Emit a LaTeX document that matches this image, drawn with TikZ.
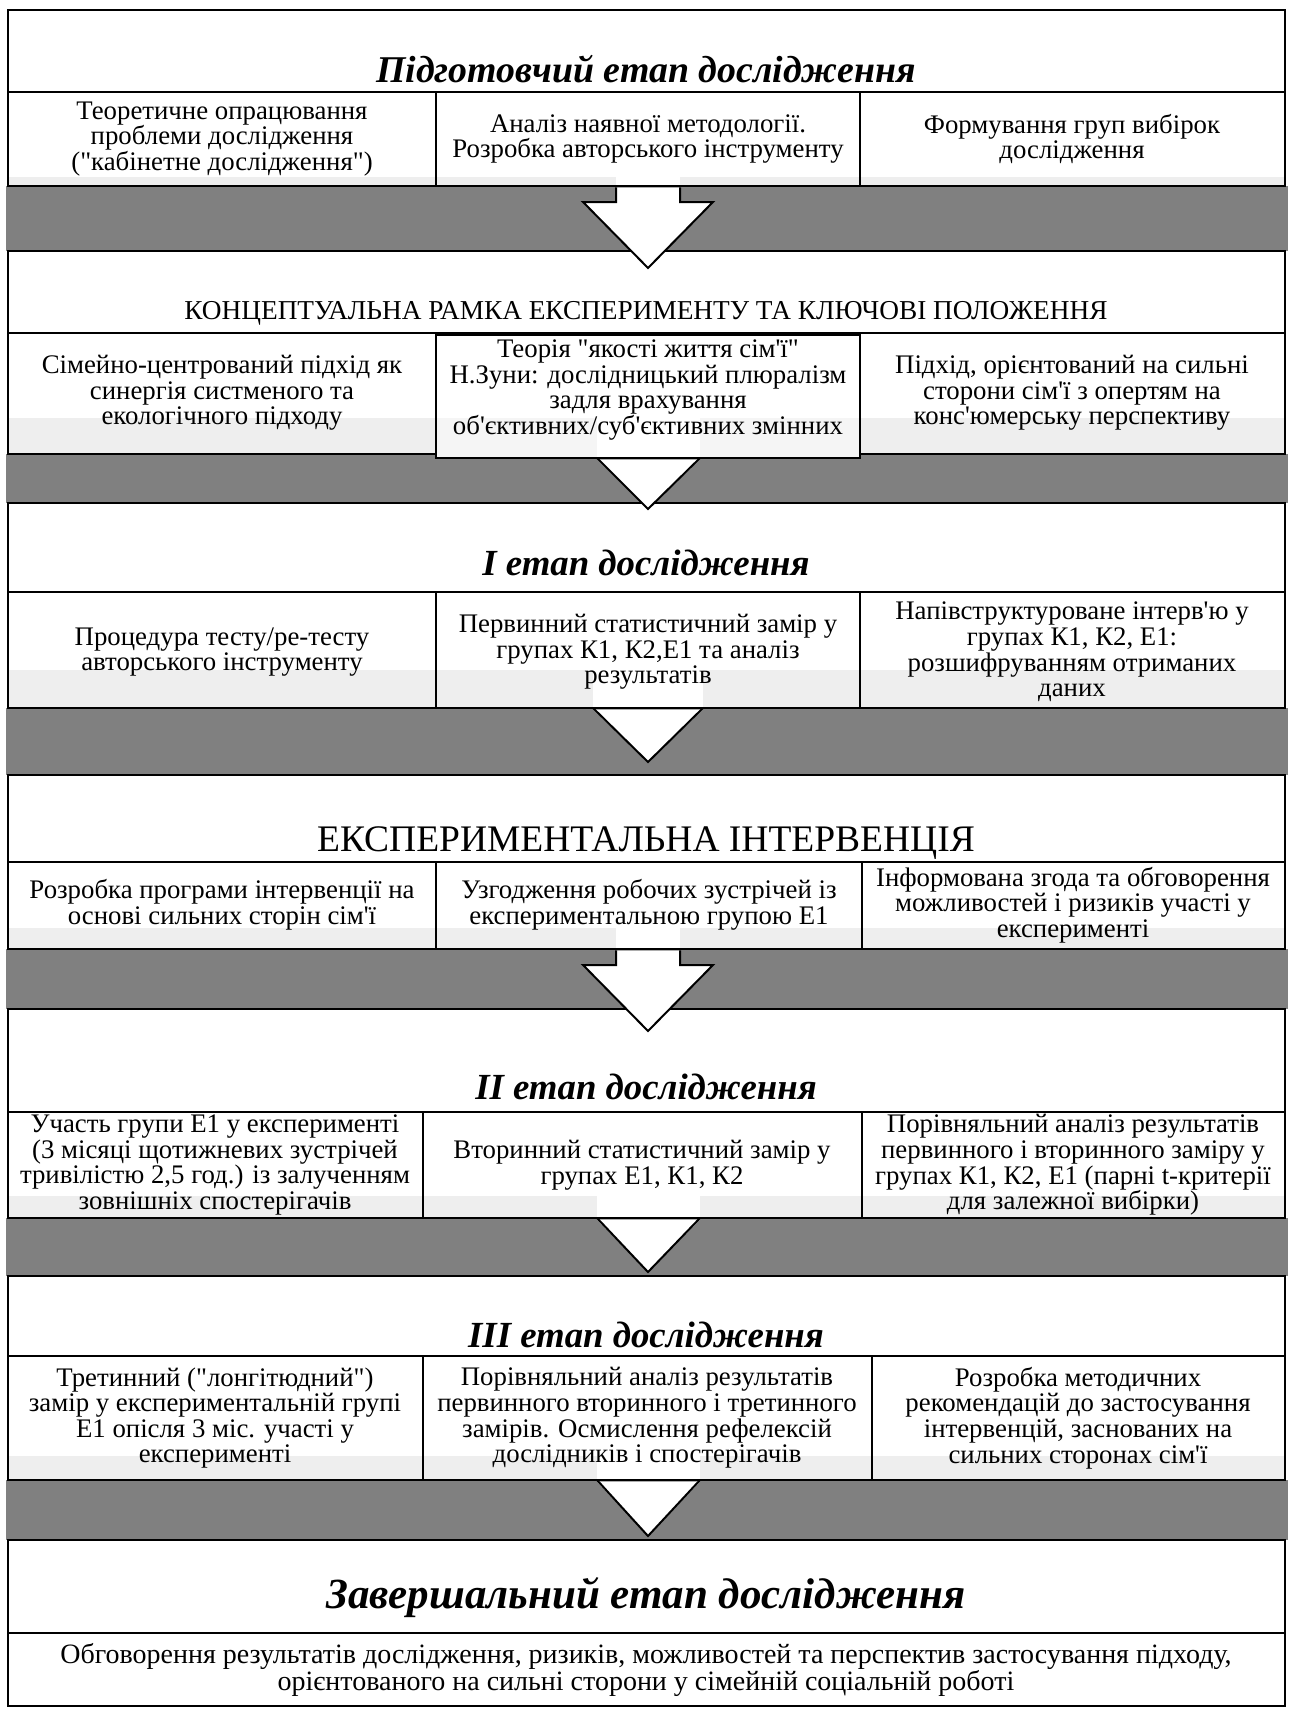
\documentclass[tikz,border=0pt]{standalone}
\usepackage{fontspec}
\setmainfont{Liberation Serif}[Ligatures=TeXOff]
\definecolor{bandgray}{RGB}{128,128,128}
\definecolor{stripgray}{RGB}{238,238,238}
\begin{document}
\begin{tikzpicture}[x=1pt,y=-1pt,line join=miter,
  frame/.style={draw=black,line width=2.6pt},
  divline/.style={draw=black,line width=1.8pt},
  arrowline/.style={draw=black,line width=2pt},
  txt/.style={font=\fontsize{26.8}{25.6}\selectfont,align=center,inner sep=0pt},
  ttl/.style={font=\fontsize{36.8}{40}\selectfont\bfseries\itshape,inner sep=0pt,anchor=base},
  topttl/.style={font=\fontsize{37.8}{40}\selectfont\bfseries\itshape,inner sep=0pt,anchor=base},
  bigttl/.style={font=\fontsize{43}{46}\selectfont\bfseries\itshape,inner sep=0pt,anchor=base},
  capttl/.style={font=\fontsize{37.5}{40}\selectfont,inner sep=0pt,anchor=base},
  smallcap/.style={font=\fontsize{27.3}{30}\selectfont,inner sep=0pt,anchor=base}]
\useasboundingbox (0,0) rectangle (1288,1710);
\fill[white] (0,0) rectangle (1288,1710);
% grey bands
\fill[bandgray] (6,186) rectangle (1288,251);
\fill[bandgray] (6,454) rectangle (1288,503);
\fill[bandgray] (6,708) rectangle (1288,775);
\fill[bandgray] (6,949) rectangle (1288,1009);
\fill[bandgray] (6,1218) rectangle (1288,1276);
\fill[bandgray] (6,1480) rectangle (1288,1540);
% white stage boxes
\fill[white] (8,10) rectangle (1285,186);
\fill[white] (8,251) rectangle (1285,454);
\fill[white] (8,503) rectangle (1285,708);
\fill[white] (8,775) rectangle (1285,949);
\fill[white] (8,1009) rectangle (1285,1218);
\fill[white] (8,1276) rectangle (1285,1480);
\fill[white] (8,1540) rectangle (1285,1706);
% light strips
\fill[stripgray] (9,177) rectangle (1284,186);
\fill[stripgray] (9,418) rectangle (1284,454);
\fill[stripgray] (9,670) rectangle (1284,708);
\fill[stripgray] (9,928) rectangle (1284,949);
\fill[stripgray] (9,1196) rectangle (1284,1218);
\fill[stripgray] (9,1456) rectangle (1284,1480);
% white stems in strips
\fill[white] (616,177) rectangle (680,186);
\fill[white] (597,418) rectangle (700,454);
\fill[white] (593,670) rectangle (703,708);
\fill[white] (616,928) rectangle (680,949);
\fill[white] (597,1196) rectangle (700,1218);
\fill[white] (597,1456) rectangle (700,1480);
% stage 0
\draw[frame] (8,10) rectangle (1285,186);
\draw[divline] (8,92) -- (1285,92);
\draw[divline] (436,92) -- (436,186);
\draw[divline] (860,92) -- (860,186);
% stage 1
\draw[frame] (8,251) rectangle (1285,454);
\draw[divline] (8,333) -- (1285,333);
\fill[white] (436,335) rectangle (860,418);
\fill[stripgray!60] (436,418) rectangle (860,458);
\fill[white] (597,418) rectangle (700,458);
\draw[divline] (436,335) rectangle (860,458);
% stage 2
\draw[frame] (8,503) rectangle (1285,708);
\draw[divline] (8,592) -- (1285,592);
\draw[divline] (436,592) -- (436,708);
\draw[divline] (860,592) -- (860,708);
% stage 3
\draw[frame] (8,775) rectangle (1285,949);
\draw[divline] (8,862) -- (1285,862);
\draw[divline] (436,862) -- (436,949);
\draw[divline] (862,862) -- (862,949);
% stage 4
\draw[frame] (8,1009) rectangle (1285,1218);
\draw[divline] (8,1112) -- (1285,1112);
\draw[divline] (423,1112) -- (423,1218);
\draw[divline] (862,1112) -- (862,1218);
% stage 5
\draw[frame] (8,1276) rectangle (1285,1480);
\draw[divline] (8,1356) -- (1285,1356);
\draw[divline] (423,1356) -- (423,1480);
\draw[divline] (872,1356) -- (872,1480);
% stage 6
\draw[frame] (8,1540) rectangle (1285,1706);
\draw[divline] (8,1633) -- (1285,1633);
% block arrows
\fill[white] (616,187.5) -- (616,202) -- (583,202) -- (648,268) -- (713,202) -- (680,202) -- (680,187.5) -- cycle;
\draw[arrowline] (616,187.3) -- (616,202) -- (583,202) -- (648,268) -- (713,202) -- (680,202) -- (680,187.3);
\fill[white] (597,459.5) -- (648,509) -- (700,459.5) -- cycle;
\draw[arrowline] (597,458) -- (648,509) -- (700,458);
\fill[white] (593,709.5) -- (648,762) -- (703,709.5) -- cycle;
\draw[arrowline] (593,708) -- (648,762) -- (703,708);
\fill[white] (616,950.5) -- (616,965) -- (583,965) -- (648,1031) -- (713,965) -- (680,965) -- (680,950.5) -- cycle;
\draw[arrowline] (616,950.3) -- (616,965) -- (583,965) -- (648,1031) -- (713,965) -- (680,965) -- (680,950.3);
\fill[white] (597,1219.5) -- (648,1272) -- (700,1219.5) -- cycle;
\draw[arrowline] (597,1218) -- (648,1272) -- (700,1218);
\fill[white] (597,1481.5) -- (648,1536) -- (700,1481.5) -- cycle;
\draw[arrowline] (597,1480) -- (648,1536) -- (700,1480);
% texts stage 0
\node[topttl] (t0) at (646,82) {Підготовчий етап дослідження};
\node[txt] (c0a) at (222,139) {Теоретичне опрацювання\\проблеми дослідження\\("кабінетне дослідження")};
\node[txt] (c0b) at (648,139) {Аналіз наявної методології.\\Розробка авторського інструменту};
\node[txt] (c0c) at (1072,139) {Формування груп вибірок\\дослідження};
% stage 1
\node[smallcap] (t1) at (646,319) {КОНЦЕПТУАЛЬНА РАМКА ЕКСПЕРИМЕНТУ ТА КЛЮЧОВІ ПОЛОЖЕННЯ};
\node[txt] (c1a) at (222,393) {Сімейно-центрований підхід як\\синергія систменого та\\екологічного підходу};
\node[txt] (c1b) at (648,390) {Теорія "якості життя сім'ї"\\Н.Зуни: дослідницький плюралізм\\задля врахування\\об'єктивних/суб'єктивних змінних};
\node[txt] (c1c) at (1072,393) {Підхід, орієнтований на сильні\\сторони сім'ї з опертям на\\конс'юмерську перспективу};
% stage 2
\node[ttl] (t2) at (646,575) {I етап дослідження};
\node[txt] (c2a) at (222,652) {Процедура тесту/ре-тесту\\авторського інструменту};
\node[txt] (c2b) at (648,652) {Первинний статистичний замір у\\групах К1, К2,Е1 та аналіз\\результатів};
\node[txt] (c2c) at (1072,652) {Напівструктуроване інтерв'ю у\\групах К1, К2, Е1:\\розшифруванням отриманих\\даних};
% stage 3
\node[capttl] (t3) at (646,851) {ЕКСПЕРИМЕНТАЛЬНА ІНТЕРВЕНЦІЯ};
\node[txt] (c3a) at (222,905) {Розробка програми інтервенції на\\основі сильних сторін сім'ї};
\node[txt] (c3b) at (649,905) {Узгодження робочих зустрічей із\\експериментальною групою Е1};
\node[txt] (c3c) at (1073,905) {Інформована згода та обговорення\\можливостей і ризиків участі у\\експерименті};
% stage 4
\node[ttl] (t4) at (646,1099) {II етап дослідження};
\node[txt] (c4a) at (215,1165) {Участь групи Е1 у експерименті\\(3 місяці щотижневих зустрічей\\тривілістю 2,5 год.) із залученням\\зовнішніх спостерігачів};
\node[txt] (c4b) at (642,1165) {Вторинний статистичний замір у\\групах Е1, К1, К2};
\node[txt] (c4c) at (1073,1165) {Порівняльний аналіз результатів\\первинного і вторинного заміру у\\групах К1, К2, Е1 (парні t-критерії\\для залежної вибірки)};
% stage 5
\node[ttl] (t5) at (646,1347) {III етап дослідження};
\node[txt] (c5a) at (215,1418) {Третинний ("лонгітюдний")\\замір у експериментальній групі\\Е1 опісля 3 міс. участі у\\експерименті};
\node[txt] (c5b) at (647,1418) {Порівняльний аналіз результатів\\первинного вторинного і третинного\\замірів. Осмислення рефелексій\\дослідників і спостерігачів};
\node[txt] (c5c) at (1078,1418) {Розробка методичних\\рекомендацій до застосування\\інтервенцій, заснованих на\\сильних сторонах сім'ї};
% stage 6
\node[bigttl] (t6) at (646,1608) {Завершальний етап дослідження};
\node[txt,font=\fontsize{28}{25.8}\selectfont] (c6) at (646,1670) {Обговорення результатів дослідження, ризиків, можливостей та перспектив застосування підходу,\\орієнтованого на сильні сторони у сімейній соціальній роботі};
\end{tikzpicture}
\end{document}
